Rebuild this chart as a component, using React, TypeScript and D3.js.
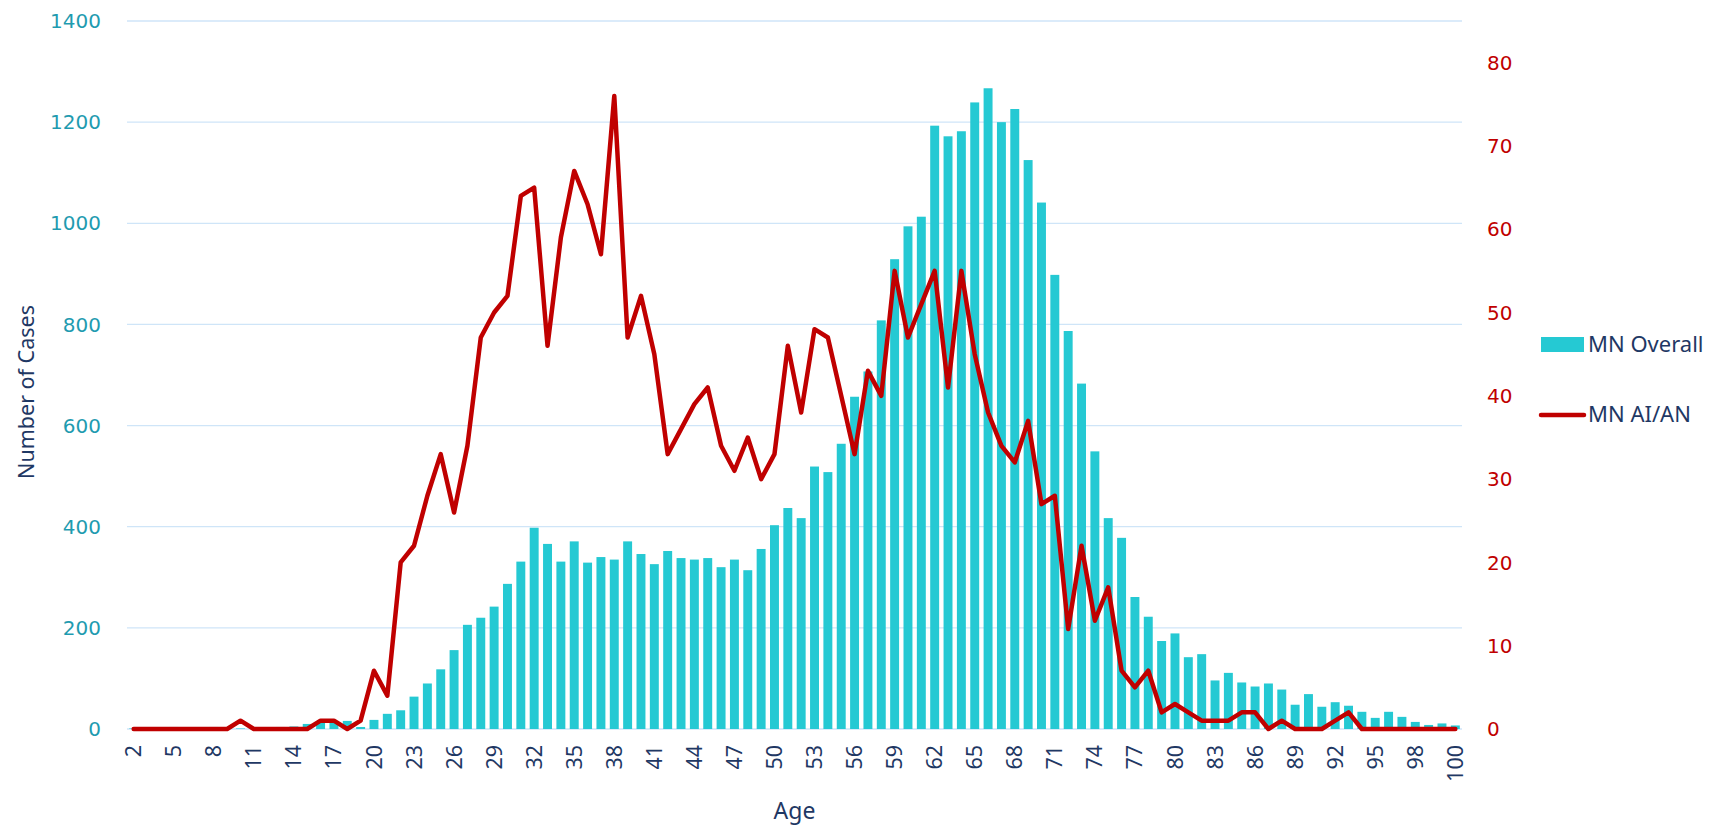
import React, { useEffect, useRef } from 'react';
import * as d3 from 'd3';

// bars, one per age category (left axis)
const overallCases = [
  1, 0, 1, 4, 1, 2, 4, 3, 1, 1,
  2, 4, 5, 10, 14, 14, 16, 4, 18, 30,
  37, 64, 90, 118, 156, 206, 220, 242, 287, 331,
  398, 366, 331, 371, 329, 340, 335, 371, 346, 326,
  352, 338, 335, 338, 320, 335, 314, 356, 403, 437,
  417, 519, 508, 564, 657, 707, 808, 929, 994, 1013,
  1193, 1172, 1182, 1239, 1267, 1200, 1226, 1125, 1041, 898,
  787, 683, 549, 417, 378, 261, 222, 174, 189, 142,
  148, 96, 111, 92, 84, 90, 78, 48, 69, 44,
  53, 46, 34, 22, 34, 24, 14, 8, 11, 7,
];

// line, same categories (right axis)
const aianCases = [
  0, 0, 0, 0, 0, 0, 0, 0, 1, 0,
  0, 0, 0, 0, 1, 1, 0, 1, 7, 4,
  20, 22, 28, 33, 26, 34, 47, 50, 52, 64,
  65, 46, 59, 67, 63, 57, 76, 47, 52, 45,
  33, 36, 39, 41, 34, 31, 35, 30, 33, 46,
  38, 48, 47, 40, 33, 43, 40, 55, 47, 51,
  55, 41, 55, 45, 38, 34, 32, 37, 27, 28,
  12, 22, 13, 17, 7, 5, 7, 2, 3, 2,
  1, 1, 1, 2, 2, 0, 1, 0, 0, 0,
  1, 2, 0, 0, 0, 0, 0, 0, 0, 0,
];

// every third category carries a label
const ageTickLabels = [
  '2', '5', '8', '11', '14', '17', '20', '23', '26', '29', '32', '35',
  '38', '41', '44', '47', '50', '53', '56', '59', '62', '65', '68', '71',
  '74', '77', '80', '83', '86', '89', '92', '95', '98', '100',
];

const leftTicks = [0, 200, 400, 600, 800, 1000, 1200, 1400];
const rightTicks = [0, 10, 20, 30, 40, 50, 60, 70, 80];
const seriesNames = ['MN Overall', 'MN AI/AN'];

const BAR_COLOR = '#25c9d3';
const LINE_COLOR = '#c00000';
const NAVY = '#1f3864';
const TEAL_TEXT = '#1f9bb0';
const GRID = '#cfe5f8';

export default function App() {
  const ref = useRef<SVGSVGElement>(null);

  useEffect(() => {
    const svg = d3.select(ref.current);
    svg.selectAll('*').remove();

    const left = 127, right = 1462, top = 21, bottom = 729;

    const x = d3.scaleBand<number>()
      .domain(d3.range(overallCases.length))
      .range([left, right])
      .paddingInner(0.33)
      .paddingOuter(0.165);
    const yLeft = d3.scaleLinear().domain([0, 1400]).range([bottom, top]);
    const yRight = d3.scaleLinear().domain([0, 85]).range([bottom, top]);

    // gridlines
    svg.append('g')
      .selectAll('line')
      .data(leftTicks)
      .enter()
      .append('line')
      .attr('x1', left)
      .attr('x2', right)
      .attr('y1', (d) => yLeft(d))
      .attr('y2', (d) => yLeft(d))
      .attr('stroke', GRID)
      .attr('stroke-width', 1.3);

    // left tick labels
    svg.append('g')
      .selectAll('text')
      .data(leftTicks)
      .enter()
      .append('text')
      .attr('x', 101)
      .attr('y', (d) => yLeft(d))
      .attr('dy', '0.36em')
      .attr('text-anchor', 'end')
      .attr('font-family', 'DejaVu Sans')
      .attr('font-size', 20)
      .attr('fill', TEAL_TEXT)
      .text((d) => String(d));

    // right tick labels
    svg.append('g')
      .selectAll('text')
      .data(rightTicks)
      .enter()
      .append('text')
      .attr('x', 1487)
      .attr('y', (d) => yRight(d))
      .attr('dy', '0.36em')
      .attr('text-anchor', 'start')
      .attr('font-family', 'DejaVu Sans')
      .attr('font-size', 20)
      .attr('fill', LINE_COLOR)
      .text((d) => String(d));

    // bars
    svg.append('g')
      .selectAll('rect')
      .data(overallCases)
      .enter()
      .append('rect')
      .attr('x', (_d, i) => x(i) as number)
      .attr('y', (d) => yLeft(d))
      .attr('width', x.bandwidth())
      .attr('height', (d) => bottom - yLeft(d))
      .attr('fill', BAR_COLOR);

    // line
    const line = d3.line<number>()
      .x((_d, i) => (x(i) as number) + x.bandwidth() / 2)
      .y((d) => yRight(d));
    svg.append('path')
      .datum(aianCases)
      .attr('d', line)
      .attr('fill', 'none')
      .attr('stroke', LINE_COLOR)
      .attr('stroke-width', 4.5)
      .attr('stroke-linejoin', 'round')
      .attr('stroke-linecap', 'round');

    // x tick labels (rotated)
    svg.append('g')
      .selectAll('text')
      .data(ageTickLabels)
      .enter()
      .append('text')
      .attr('transform', (_d, k) => `translate(${(x(k * 3) as number) + x.bandwidth() / 2}, 745) rotate(-90)`)
      .attr('dy', '0.35em')
      .attr('text-anchor', 'end')
      .attr('font-family', 'Noto Sans')
      .attr('font-size', 21.5)
      .attr('fill', NAVY)
      .text((d) => d);

    // axis titles
    svg.append('text')
      .attr('transform', `translate(34, ${(top + bottom) / 2 + 17}) rotate(-90)`)
      .attr('text-anchor', 'middle')
      .attr('font-family', 'Noto Sans')
      .attr('font-size', 21.5)
      .attr('fill', NAVY)
      .text('Number of Cases');

    svg.append('text')
      .attr('x', (left + right) / 2)
      .attr('y', 819)
      .attr('text-anchor', 'middle')
      .attr('font-family', 'Noto Sans')
      .attr('font-size', 23)
      .attr('fill', NAVY)
      .text('Age');

    // legend
    const legend = svg.append('g');
    legend.append('rect')
      .attr('x', 1541).attr('y', 337)
      .attr('width', 43).attr('height', 15)
      .attr('fill', BAR_COLOR);
    legend.append('line')
      .attr('x1', 1541).attr('x2', 1584)
      .attr('y1', 415).attr('y2', 415)
      .attr('stroke', LINE_COLOR)
      .attr('stroke-width', 4.5)
      .attr('stroke-linecap', 'round');
    legend.selectAll('text')
      .data(seriesNames)
      .enter()
      .append('text')
      .attr('x', 1588)
      .attr('y', (_d, i) => (i === 0 ? 352 : 422))
      .attr('font-family', 'Noto Sans')
      .attr('font-size', 22)
      .attr('fill', NAVY)
      .text((d) => d);
  }, []);

  return (
    <svg
      ref={ref}
      width={1727}
      height={828}
      style={{ position: 'absolute', left: 0, top: 0, background: '#fff' }}
    />
  );
}
